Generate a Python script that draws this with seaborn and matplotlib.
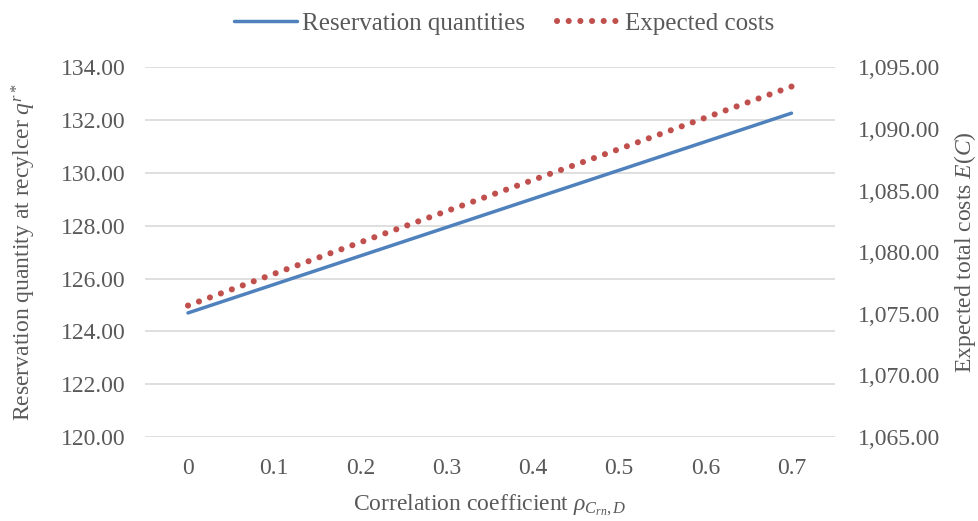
import pandas as pd
import matplotlib
matplotlib.use("Agg")
import matplotlib.pyplot as plt
import seaborn as sns

# values
rho = ["0", "0.1", "0.2", "0.3", "0.4", "0.5", "0.6", "0.7"]
reservation = [124.70, 125.78, 126.86, 127.94, 129.02, 130.10, 131.18, 132.26]
exp_costs = [1075.67, 1078.25, 1080.80, 1083.33, 1085.85, 1088.36, 1090.90, 1093.43]

sns.set_theme(style="white")
plt.rcParams["font.family"] = ["Liberation Serif", "DejaVu Serif"]
plt.rcParams["mathtext.fontset"] = "custom"
plt.rcParams["mathtext.rm"] = "Liberation Serif"
plt.rcParams["mathtext.it"] = "Liberation Serif:italic"

txt = "#595959"
blue = "#4f81bd"
red = "#c0504d"
fs = 17

data = pd.DataFrame({"rho": rho, "q": reservation, "cost": exp_costs})

fig = plt.figure(figsize=(9.79, 5.21), dpi=100)
ax = fig.add_axes([0.148, 0.161, 0.7045, 0.710])
ax2 = ax.twinx()

sns.lineplot(data=data, x="rho", y="q", ax=ax, color=blue, linewidth=2.5,
             label="Reservation quantities", legend=False)
sns.lineplot(data=data, x="rho", y="cost", ax=ax2, color=red, linewidth=4.4,
             linestyle=(0, (0.01, 1.9)), dash_capstyle="round",
             label="Expected costs", legend=False)

ax.set_xlim(-0.5, 7.5)
ax.set_ylim(120, 134)
ax.set_yticks(range(120, 135, 2))
ax.set_yticklabels([f"{v:.2f}" for v in range(120, 135, 2)])
ax2.set_ylim(1065, 1095)
ax2.set_yticks(range(1065, 1096, 5))
ax2.set_yticklabels([f"{v:,.2f}" for v in range(1065, 1096, 5)])

ax.grid(axis="y", color="#d9d9d9", linewidth=1.2)
ax.grid(axis="x", visible=False)
ax2.grid(False)
for a in (ax, ax2):
    for s in a.spines.values():
        s.set_visible(False)
    a.tick_params(length=0, labelsize=fs, labelcolor=txt)
ax.tick_params(axis="y", pad=14)
ax.tick_params(axis="x", pad=15)
ax2.tick_params(axis="y", pad=17)

ax.set_xlabel(r"Correlation coefficient $\rho_{C_{rn},D}$", fontsize=fs, color=txt, labelpad=10)
ax.set_ylabel(r"Reservation quantity at recylcer $q^{r*}$", fontsize=fs, color=txt, labelpad=16)
ax2.set_ylabel(r"Expected total costs $E(C)$", fontsize=fs, color=txt, labelpad=8)

h1, l1 = ax.get_legend_handles_labels()
h2, l2 = ax2.get_legend_handles_labels()
leg = fig.legend(h1 + h2, l1 + l2, loc="center", bbox_to_anchor=(0.515, 0.955), ncol=2,
                 frameon=False, fontsize=18, handlelength=2.5, handletextpad=0.2,
                 columnspacing=1.3)
for t in leg.get_texts():
    t.set_color(txt)

fig.savefig("out.png", dpi=100, facecolor="white")
